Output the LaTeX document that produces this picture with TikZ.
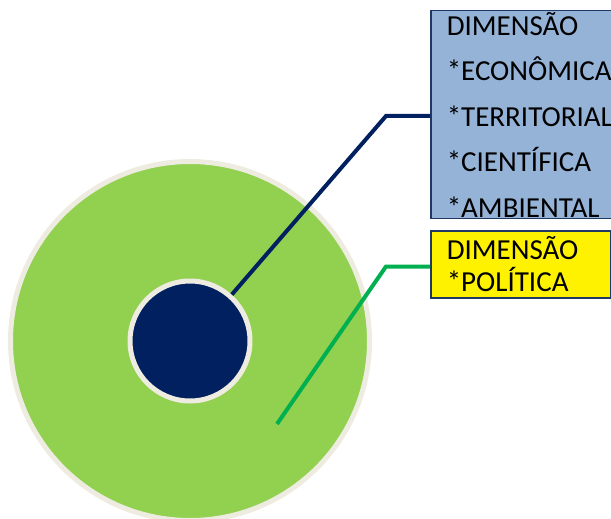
\documentclass[tikz,border=0pt]{standalone}
\usepackage{fontspec}
\setmainfont{Carlito}
\definecolor{ringgreen}{HTML}{92D050}
\definecolor{navy}{HTML}{002060}
\definecolor{cream}{HTML}{EEECE1}
\definecolor{boxblue}{HTML}{95B3D7}
\definecolor{boxedge}{HTML}{1F3864}
\definecolor{linegreen}{HTML}{00B050}
\tikzset{
  ring/.style={circle, inner sep=0pt, draw=cream, line width=5pt},
  infobox/.style={rectangle, draw=boxedge, line width=1.5pt, anchor=west,
    align=left, inner xsep=16pt, inner ysep=0pt,
    font=\fontsize{29}{45.5}\selectfont},
  leader/.style={line width=4pt}
}
\begin{document}
\begin{tikzpicture}[x=1pt,y=-1pt]
\useasboundingbox (0,0) rectangle (611,519);
\clip (0,0) rectangle (611,519);
\node[ring, fill=ringgreen, minimum size=359pt] (outer) at (190,341) {};
\node[ring, fill=navy, minimum size=120pt] (inner) at (190,341) {};
\node[infobox, fill=boxblue, minimum width=200pt, minimum height=208pt,
      text width=168pt] (blue) at (430,114.5)
  {DIMENSÃO\\{}*ECONÔMICA\\{}*TERRITORIAL\\{}*CIENTÍFICA\\{}*AMBIENTAL};
\node[infobox, fill=yellow, minimum width=180pt, minimum height=67pt,
      text width=148pt, font=\fontsize{29}{32}\selectfont] (yel) at (430,264.5)
  {DIMENSÃO\\{}*POLÍTICA};
\coordinate (bendA) at (386,116);
\coordinate (bendB) at (386,266.5);
\coordinate (gstart) at (277,424);
\draw[leader, navy] (inner.48) -- (bendA) -- (bendA -| blue.west);
\draw[leader, linegreen] (gstart) -- (bendB) -- (bendB -| yel.west);
\end{tikzpicture}
\end{document}
